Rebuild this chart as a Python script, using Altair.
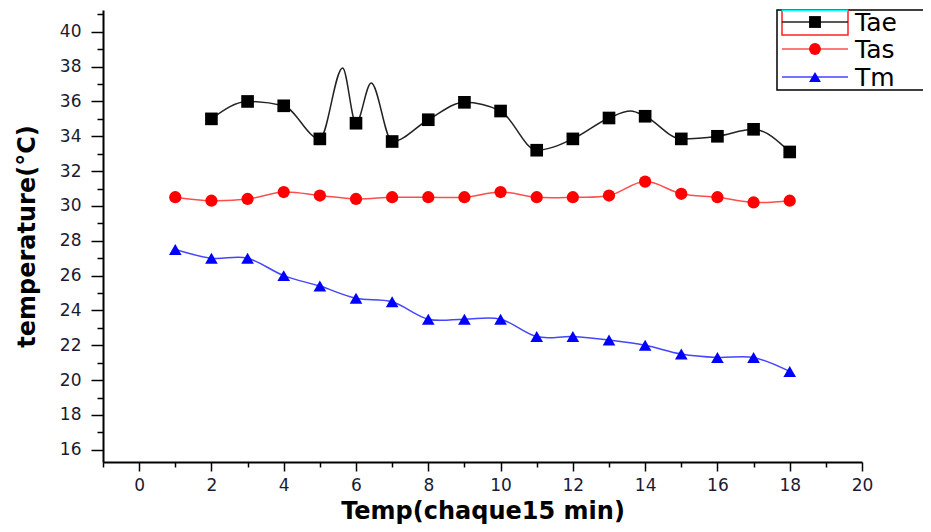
import altair as alt
import pandas as pd

# ---- data ----
time_tae = [2, 3, 4, 5, 6, 7, 8, 9, 10, 11, 12, 13, 14, 15, 16, 17, 18]
tae = [35.0, 36.0, 35.75, 33.85, 34.75, 33.7, 34.95, 35.95, 35.45, 33.2, 33.85, 35.05, 35.15, 33.85, 34.0, 34.4, 33.1]

time_tas = [1, 2, 3, 4, 5, 6, 7, 8, 9, 10, 11, 12, 13, 14, 15, 16, 17, 18]
tas = [30.5, 30.3, 30.4, 30.8, 30.6, 30.4, 30.5, 30.5, 30.5, 30.8, 30.5, 30.5, 30.6, 31.4, 30.7, 30.5, 30.2, 30.3]

time_tm = [1, 2, 3, 4, 5, 6, 7, 8, 9, 10, 11, 12, 13, 14, 15, 16, 17, 18]
tm = [27.5, 27.0, 27.0, 26.0, 25.4, 24.7, 24.5, 23.5, 23.5, 23.5, 22.5, 22.5, 22.3, 22.0, 21.5, 21.3, 21.3, 20.5]

# Tae curve as drawn (the spline overshoots between 5 and 7)
tae_curve_x = [2, 3, 4, 5, 5.63, 6, 6.42, 7, 8, 9, 10, 11, 12, 13, 13.6, 14, 15, 16, 17, 18]
tae_curve_y = [35.0, 36.0, 35.75, 33.85, 37.92, 34.75, 37.06, 33.7, 34.95, 35.95, 35.45, 33.2, 33.85, 35.05, 35.45, 35.15, 33.85, 34.0, 34.4, 33.1]

series_names = ["Tae", "Tas", "Tm"]

x_major = list(range(0, 21, 2))
x_minor = list(range(-1, 21, 2))
y_major = list(range(16, 41, 2))
y_minor = list(range(17, 42, 2))

# ---- tables ----
tae_df = pd.DataFrame({"t": time_tae, "v": tae})
tae_curve_df = pd.DataFrame({"t": tae_curve_x, "v": tae_curve_y})
tas_df = pd.DataFrame({"t": time_tas, "v": tas})
tm_df = pd.DataFrame({"t": time_tm, "v": tm})

xs = alt.Scale(domain=[-1, 20], nice=False, zero=False)
ys = alt.Scale(domain=[15.3, 41.25], nice=False, zero=False)

LBL = dict(labelFont="DejaVu Sans", labelFontSize=17, labelColor="#1a1a33",
           tickColor="black", domainColor="black", grid=False,
           labelFlush=False, labelOverlap=False)

x_major_axis = alt.Axis(values=x_major, orient="bottom", tickSize=9, tickWidth=1.5,
                        domainWidth=2, labelPadding=6,
                        title="Temp(chaque15 min)", titleFont="DejaVu Sans",
                        titleFontWeight="bold", titleFontSize=24, titleColor="black",
                        titlePadding=6, format="d", **LBL)
y_major_axis = alt.Axis(values=y_major, orient="left", tickSize=12, tickWidth=1.5,
                        domainWidth=2, labelPadding=10,
                        title="temperature(°C)", titleFont="DejaVu Sans",
                        titleFontWeight="bold", titleFontSize=24, titleColor="black",
                        titlePadding=20, format="d", **LBL)
x_minor_axis = alt.Axis(values=x_minor, orient="bottom", tickSize=5, tickWidth=1.5,
                        labels=False, domain=False, grid=False, title=None,
                        tickColor="black")
y_minor_axis = alt.Axis(values=y_minor, orient="left", tickSize=6, tickWidth=1.5,
                        labels=False, domain=False, grid=False, title=None,
                        tickColor="black")


def enc(chart, xaxis=None, yaxis=None):
    return chart.encode(
        x=alt.X("t:Q", scale=xs, axis=xaxis),
        y=alt.Y("v:Q", scale=ys, axis=yaxis),
    )


tas_line = enc(alt.Chart(tas_df).mark_line(color="#ff4d4d", strokeWidth=1.5,
                                           interpolate="cardinal"),
               x_major_axis, y_major_axis)
tm_line = enc(alt.Chart(tm_df).mark_line(color="#4545ff", strokeWidth=1.5,
                                         interpolate="cardinal"),
              x_minor_axis, y_minor_axis)
tae_line = enc(alt.Chart(tae_curve_df).mark_line(color="#222222", strokeWidth=1.5,
                                                 interpolate="monotone"))

tae_pts = enc(alt.Chart(tae_df).mark_point(shape="square", filled=True, color="black",
                                           size=160, opacity=1))
tas_pts = enc(alt.Chart(tas_df).mark_point(shape="circle", filled=True, color="red",
                                           size=150, opacity=1))
tm_pts = enc(alt.Chart(tm_df).mark_point(shape="triangle-up", filled=True, color="blue",
                                         size=160, opacity=1))

# ---- hand-made legend (top right, cut by the page edge) ----
one = pd.DataFrame({"a": [0]})
legend_layers = [
    alt.Chart(one).mark_rect(fill="white", stroke="black", strokeWidth=1.5).encode(
        x=alt.value(674), x2=alt.value(860), y=alt.value(0), y2=alt.value(80)),
    alt.Chart(one).mark_rect(fill="white", stroke="#ff2020", strokeWidth=1.5).encode(
        x=alt.value(679), x2=alt.value(745), y=alt.value(0), y2=alt.value(25)),
    alt.Chart(one).mark_rule(color="cyan", strokeWidth=1.5).encode(
        x=alt.value(679), x2=alt.value(745), y=alt.value(0.5)),
]
legend_rows = [
    ("Tae", "#222222", "black", "square", 12),
    ("Tas", "#ff4d4d", "red", "circle", 39),
    ("Tm", "#4545ff", "blue", "triangle-up", 67),
]
for name, lcol, mcol, shape, yy in legend_rows:
    legend_layers.append(
        alt.Chart(one).mark_rule(color=lcol, strokeWidth=1.5).encode(
            x=alt.value(679), x2=alt.value(745), y=alt.value(yy)))
    legend_layers.append(
        alt.Chart(one).mark_point(shape=shape, filled=True, color=mcol, size=140,
                                  opacity=1).encode(
            x=alt.value(712), y=alt.value(yy)))
    legend_layers.append(
        alt.Chart(one).mark_text(text=name, font="DejaVu Sans", fontSize=25,
                                 align="left", baseline="middle", color="black").encode(
            x=alt.value(752), y=alt.value(yy + 1)))

chart = alt.layer(
    tas_line, tm_line, tae_line, tae_pts, tas_pts, tm_pts, *legend_layers
).resolve_axis(
    x="independent", y="independent"
).properties(
    width=759, height=452,
    autosize=alt.AutoSizeParams(type="none"),
    padding={"left": 95, "top": 2, "right": 61, "bottom": 62},
    background="white",
).configure_view(stroke=None)

chart.save("out.html", embed_options={"renderer": "svg", "actions": False})
